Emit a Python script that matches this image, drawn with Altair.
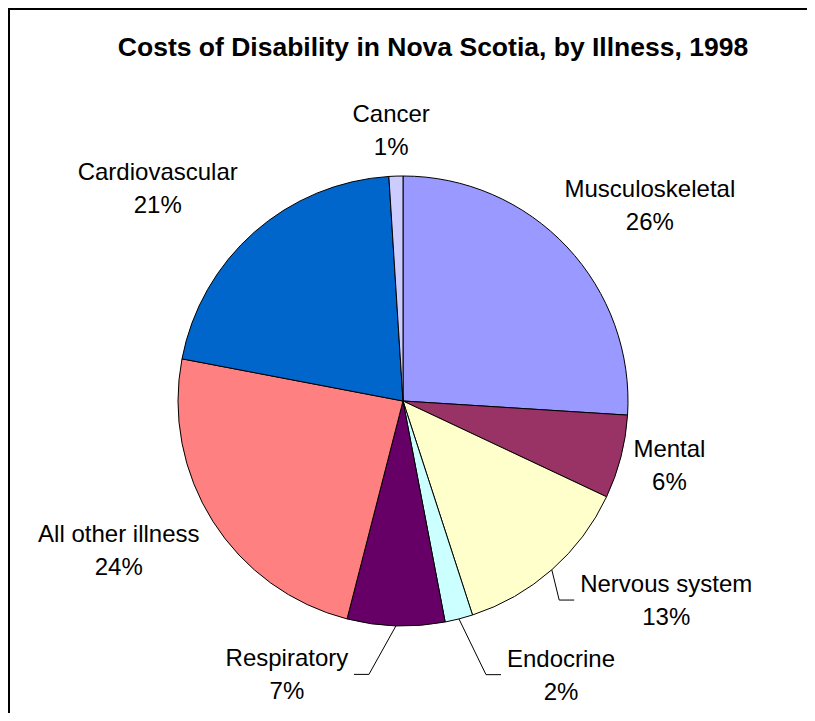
import altair as alt
import numpy as np
import pandas as pd

# ---- data ----
title = "Costs of Disability in Nova Scotia, by Illness, 1998"
categories = ["Musculoskeletal", "Mental", "Nervous system", "Endocrine",
              "Respiratory", "All other illness", "Cardiovascular", "Cancer"]
values = [26, 6, 13, 2, 7, 24, 21, 1]
colors = ["#9999FF", "#993366", "#FFFFCC", "#CCFFFF",
          "#660066", "#FF8080", "#0066CC", "#CCCCFF"]

# ---- style / layout ----
W, H = 799, 705
CX, CY, R = 395, 393, 225
FONT = "Liberation Sans"
# label placement: (distance from centre, angle nudge in degrees from slice middle)
LABEL_POLAR = {
    "Musculoskeletal": (315, 4.8),
    "Mental": (274, -0.9),
    "Nervous system": (330, -11.5),
    "Endocrine": (316, -15.6),
    "Respiratory": (297, 21.2),
    "All other illness": (321, 4.7),
    "Cardiovascular": (325, -7.6),
    "Cancer": (271, -0.7),
}
# leader lines: horizontal distance from label centre to the leader's end
LEADER = {"Nervous system": 92, "Endocrine": 60, "Respiratory": 67}
ELBOW = 15

total = float(sum(values))
cum = np.cumsum(values)
mid_deg = (cum - np.array(values) / 2.0) / total * 360.0

pie_df = pd.DataFrame({"category": categories, "value": values,
                       "order": list(range(len(values)))})

lab_rows, seg_rows = [], []
for cat, v, m in zip(categories, values, mid_deg):
    r, nudge = LABEL_POLAR[cat]
    a = np.radians(m + nudge)
    lx = CX + r * np.sin(a)
    ly = CY - r * np.cos(a)
    lab_rows.append({"lx": lx, "ly": ly, "label": f"{cat}\n{v}%"})
    if cat in LEADER:
        am = np.radians(m)
        sx, sy = CX + R * np.sin(am), CY - R * np.cos(am)
        side = 1 if lx > sx else -1
        ex = lx - side * LEADER[cat]
        bx = ex - side * ELBOW
        seg_rows.append({"x": sx, "y": sy, "x2": bx, "y2": ly})
        seg_rows.append({"x": bx, "y": ly, "x2": ex, "y2": ly})

lab_df = pd.DataFrame(lab_rows)
seg_df = pd.DataFrame(seg_rows)

pie = alt.Chart(pie_df).mark_arc(outerRadius=R, stroke="black", strokeWidth=1).encode(
    theta=alt.Theta("value:Q", stack=True),
    color=alt.Color("category:N", scale=alt.Scale(domain=categories, range=colors), legend=None),
    order=alt.Order("order:Q"),
    x=alt.value(CX),
    y=alt.value(CY),
)

labels = alt.Chart(lab_df).mark_text(
    font=FONT, fontSize=24, lineBreak="\n", lineHeight=33, dy=-15,
    align="center", baseline="middle", color="black"
).encode(
    x=alt.X("lx:Q", scale=None, axis=None),
    y=alt.Y("ly:Q", scale=None, axis=None),
    text="label:N",
)

leaders = alt.Chart(seg_df).mark_rule(color="black", strokeWidth=1).encode(
    x=alt.X("x:Q", scale=None, axis=None),
    y=alt.Y("y:Q", scale=None, axis=None),
    x2="x2:Q",
    y2="y2:Q",
)

title_df = pd.DataFrame({"t": [title]})
title_mark = alt.Chart(title_df).mark_text(
    font=FONT, fontSize=26.5, fontWeight="bold", align="center", baseline="middle", color="black"
).encode(x=alt.value(425), y=alt.value(40), text="t:N")

frame_df = pd.DataFrame({"a": [0]})
left_border = alt.Chart(frame_df).mark_rule(color="black", strokeWidth=2).encode(
    x=alt.value(1), y=alt.value(0), y2=alt.value(H))
top_border = alt.Chart(frame_df).mark_rule(color="black", strokeWidth=2).encode(
    y=alt.value(1), x=alt.value(0), x2=alt.value(W))

chart = alt.layer(pie, leaders, labels, title_mark, left_border, top_border).properties(
    width=W, height=H, padding=0, autosize="none", background="white"
).configure_view(strokeWidth=0)

chart.save("out.html", embed_options={"renderer": "svg", "actions": False})
